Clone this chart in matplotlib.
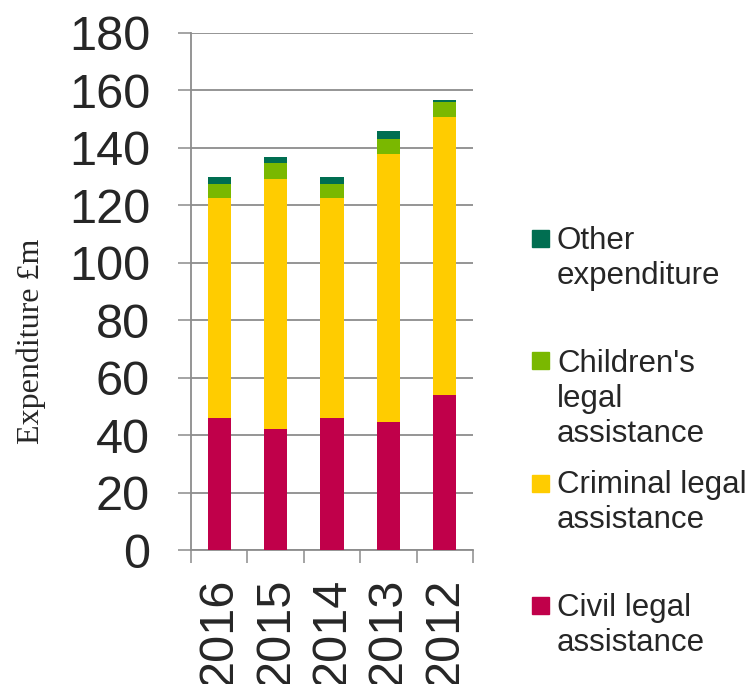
import matplotlib
matplotlib.use("Agg")
import matplotlib.pyplot as plt
import matplotlib.patches as mpatches
import numpy as np

# ---------- data ----------
years = ["2016", "2015", "2014", "2013", "2012"]
civil = [45.8, 42.2, 45.8, 44.5, 53.8]
criminal = [76.6, 87.1, 76.6, 93.3, 97.0]
children = [5.1, 5.4, 5.1, 5.3, 5.3]
other = [2.3, 2.3, 2.3, 2.9, 0.7]

series_names = ["Civil legal\nassistance", "Criminal legal\nassistance",
                "Children's\nlegal\nassistance", "Other\nexpenditure"]
series_vals = [civil, criminal, children, other]
series_cols = ["#C0004A", "#FFCC00", "#7AB800", "#006E51"]

y_ticks = [0, 20, 40, 60, 80, 100, 120, 140, 160, 180]

GRID = "#8c8c8c"
TXT = "#262626"
plt.rcParams["font.family"] = ["Liberation Sans", "DejaVu Sans"]

fig = plt.figure(figsize=(7.52, 6.84), dpi=100)
ax = fig.add_axes([191 / 752, 1 - 550 / 684, (473 - 191) / 752, (550 - 33) / 684])

# ---------- stacked bars ----------
x = np.arange(len(years))
bottom = np.zeros(len(years))
for vals, col in zip(series_vals, series_cols):
    ax.bar(x, vals, width=0.41, bottom=bottom, color=col, zorder=3)
    bottom += np.array(vals)

# ---------- axes ----------
ax.set_xlim(-0.5, len(years) - 0.5)
ax.set_ylim(0, 180)
ax.set_yticks(y_ticks)
ax.yaxis.grid(True, color=GRID, lw=1.3)
ax.set_axisbelow(True)

for s in ["top", "right"]:
    ax.spines[s].set_visible(False)
for s in ["left", "bottom"]:
    ax.spines[s].set_color(GRID)
    ax.spines[s].set_linewidth(1.3)

ax.tick_params(axis="y", direction="out", length=9.5, width=1.1, color=GRID,
               labelsize=35, labelcolor=TXT, pad=20)

# separators between categories as major ticks, labels on minor ticks
ax.set_xticks(np.arange(-0.5, len(years), 1.0))
ax.set_xticklabels([])
ax.set_xticks(x, minor=True)
ax.set_xticklabels(years, minor=True, rotation=90)
ax.tick_params(axis="x", which="major", direction="out", length=9.5,
               width=1.1, color=GRID)
ax.tick_params(axis="x", which="minor", length=0, labelsize=35,
               labelcolor=TXT, pad=20)

fig.text(31 / 752, 1 - 341 / 684, "Expenditure £m", rotation=90,
         family=["Liberation Serif", "DejaVu Serif"], fontsize=23,
         color=TXT, ha="center", va="center")

# ---------- legend (drawn manually) ----------
leg_top = [593, 470, 348.7, 226]      # text top (px)
sq_top = [597, 475, 352, 230]         # square top (px)
for name, col, ty, sy in zip(series_names, series_cols, leg_top, sq_top):
    fig.patches.append(mpatches.Rectangle(
        (532 / 752, 1 - (sy + 17) / 684), 17 / 752, 17 / 684,
        transform=fig.transFigure, color=col))
    fig.text(557 / 752, 1 - ty / 684, name, fontsize=22.5, color=TXT,
             ha="left", va="top", linespacing=1.23)

fig.savefig("out.png", dpi=100)
